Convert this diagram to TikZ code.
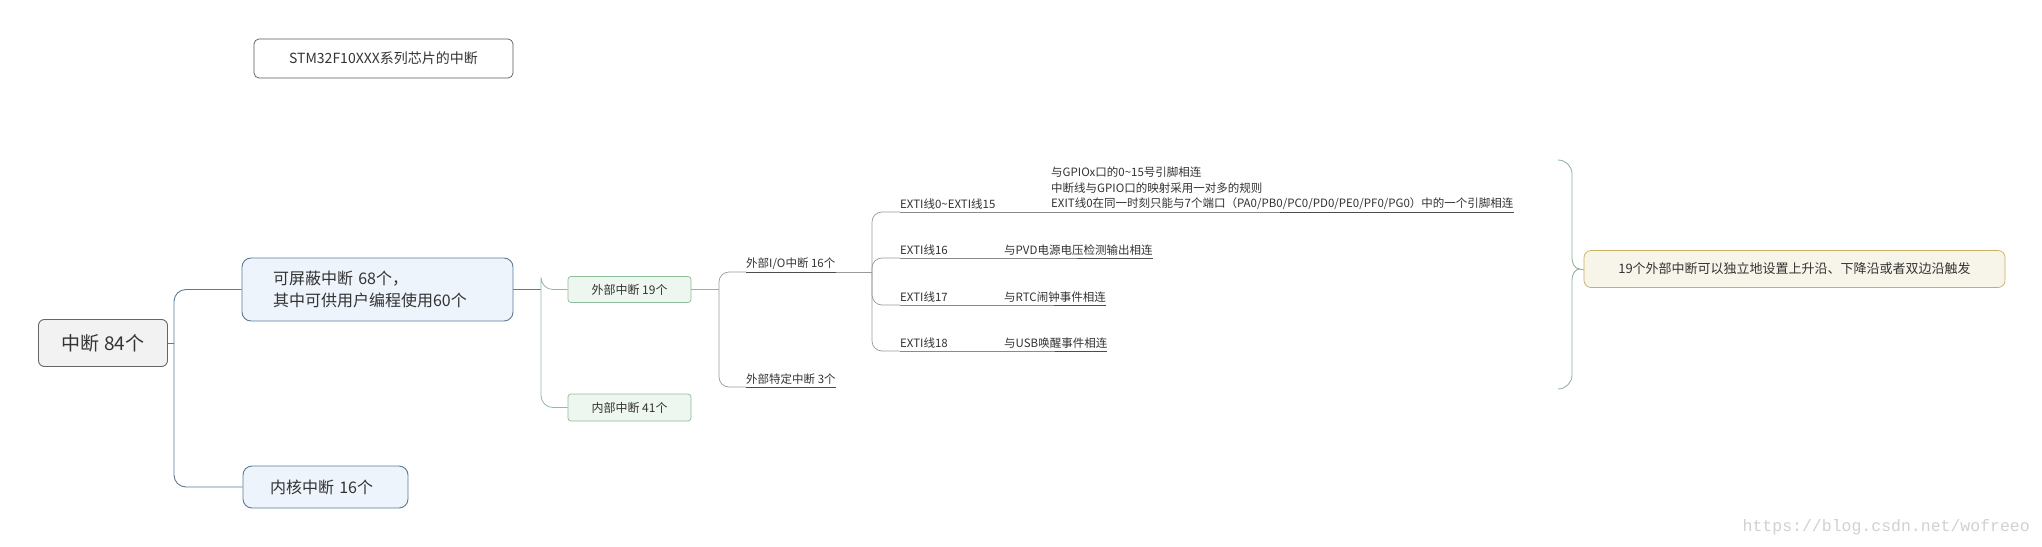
\documentclass[tikz,border=0pt]{standalone}
\usepackage{fontspec}
\setmainfont{Noto Sans CJK SC}
\newfontfamily\wmfont{Liberation Mono}
\definecolor{bluel}{HTML}{5B7B96}
\definecolor{bluef}{HTML}{EEF4FB}
\definecolor{greenl}{HTML}{8FBC9A}
\definecolor{greenf}{HTML}{EEF7EF}
\definecolor{grayl}{HTML}{9A9A9A}
\definecolor{yell}{HTML}{C8B060}
\definecolor{yelf}{HTML}{F7F5EA}
\definecolor{txt}{HTML}{333333}
\tikzset{
  rootbox/.style={draw=black!60, fill=black!5, rounded corners=6pt, line width=0.9pt, font=\fontsize{19}{22}\selectfont, text=txt},
  bluebox/.style={draw=bluel, fill=bluef, rounded corners=9pt, line width=0.9pt, font=\fontsize{16}{22}\selectfont, text=txt},
  greenbox/.style={draw=greenl, fill=greenf, rounded corners=3pt, line width=0.7pt, font=\fontsize{12}{14}\selectfont, text=txt},
  titlebox/.style={draw=black!65, fill=white, rounded corners=5pt, line width=0.7pt, font=\fontsize{14}{16}\selectfont, text=txt},
  notebox/.style={draw=yell, fill=yelf, rounded corners=7pt, line width=0.7pt, font=\fontsize{13}{15}\selectfont, text=txt},
  lbl/.style={anchor=south west, inner xsep=0pt, inner ysep=2pt, font=\fontsize{11.5}{15}\selectfont, text=txt},
  blueline/.style={draw=bluel, line width=0.9pt, rounded corners=12pt},
  greenline/.style={draw=greenl, line width=0.8pt, rounded corners=12pt},
  grayline/.style={draw=grayl, line width=0.7pt, rounded corners=10pt},
  ulline/.style={draw=black!70, line width=0.6pt},
}
\begin{document}
\begin{tikzpicture}[x=1pt,y=-1pt]
\useasboundingbox[fill=white] (0,0) rectangle (2042,546);
\node[titlebox, minimum width=259pt, minimum height=39pt] (title) at (383.5,58.5) {STM32F10XXX系列芯片的中断};
\node[rootbox, minimum width=129pt, minimum height=47pt] (root) at (103,343) {中断 84个};
\node[bluebox, minimum height=63pt, inner xsep=31pt, text width=209pt, align=left] (mask) at (377.5,289.5) {可屏蔽中断 68个，\\其中可供用户编程使用60个};
\node[bluebox, minimum height=42pt, inner xsep=27pt, text width=111pt, align=left] (core) at (325.5,487) {内核中断 16个};
\node[greenbox, minimum width=123pt, minimum height=26pt] (ext) at (629.5,289.5) {外部中断 19个};
\node[greenbox, minimum width=123pt, minimum height=27pt] (int) at (629.5,407.5) {内部中断 41个};
\node[notebox, minimum width=421pt, minimum height=37pt] (note) at (1794.5,269) {19个外部中断可以独立地设置上升沿、下降沿或者双边沿触发};

\coordinate (j1) at (174,343);
\draw[blueline] (root.east) -- (j1);
\draw[blueline] (j1) |- (mask.west);
\draw[blueline] (j1) |- (core.west);
\coordinate (j2) at (541,289.5);
\draw[blueline] (mask.east) -- (j2);
\draw[greenline] (j2) |- (ext.west);
\draw[greenline] (j2) |- (int.west);

\node[lbl] (io) at (746,272) {外部I/O中断 16个};
\node[lbl] (sp) at (746,387) {外部特定中断 3个};
\coordinate (j3) at (719,289.5);
\draw[greenline] (ext.east) -- (j3);
\draw[grayline] (j3) |- (io.south west);
\draw[grayline] (j3) |- (sp.south west);
\draw[ulline] (io.south west) -- (io.south east);
\draw[ulline] (sp.south west) -- (sp.south east);

\node[lbl] (e0) at (900,212) {EXTI线0\textasciitilde EXTI线15};
\node[lbl, align=left, font=\fontsize{11.5}{15.5}\selectfont] (d0) at (1051,212) {与GPIOx口的0\textasciitilde 15号引脚相连\\中断线与GPIO口的映射采用一对多的规则\\EXIT线0在同一时刻只能与7个端口（PA0/PB0/PC0/PD0/PE0/PF0/PG0）中的一个引脚相连};
\node[lbl] (e16) at (900,258) {EXTI线16};
\node[lbl] (d16) at (1004,258) {与PVD电源电压检测输出相连};
\node[lbl] (e17) at (900,305) {EXTI线17};
\node[lbl] (d17) at (1004,305) {与RTC闹钟事件相连};
\node[lbl] (e18) at (900,351) {EXTI线18};
\node[lbl] (d18) at (1004,351) {与USB唤醒事件相连};
\coordinate (j4) at (872,272);
\draw[grayline] (io.south east) -- (j4);
\draw[grayline] (j4) |- (e0.south west);
\draw[grayline] (j4) |- (e16.south west);
\draw[grayline] (j4) |- (e17.south west);
\draw[grayline] (j4) |- (e18.south west);
\draw[ulline] (e0.south west) -- (d0.south west) -- (d0.south east);
\draw[ulline] (e16.south west) -- (d16.south west) -- (d16.south east);
\draw[ulline] (e17.south west) -- (d17.south west) -- (d17.south east);
\draw[ulline] (e18.south west) -- (d18.south west) -- (d18.south east);

\coordinate (btip) at (1580,269);
\draw[draw=greenl!80!gray, line width=0.8pt] (1558,160) to[out=0,in=90] (1572,174) -- (1572,258) to[out=-90,in=180] (btip) to[out=180,in=90] (1572,280) -- (1572,375) to[out=-90,in=0] (1558,389);
\draw[draw=yell, line width=0.8pt] (btip) -- (note.west);

\node[anchor=base east, inner sep=0pt, text=black!18, font=\wmfont\fontsize{16.5}{18}\selectfont] (wm) at (2030,531) {https://blog.csdn.net/wofreeo};
\end{tikzpicture}
\end{document}
